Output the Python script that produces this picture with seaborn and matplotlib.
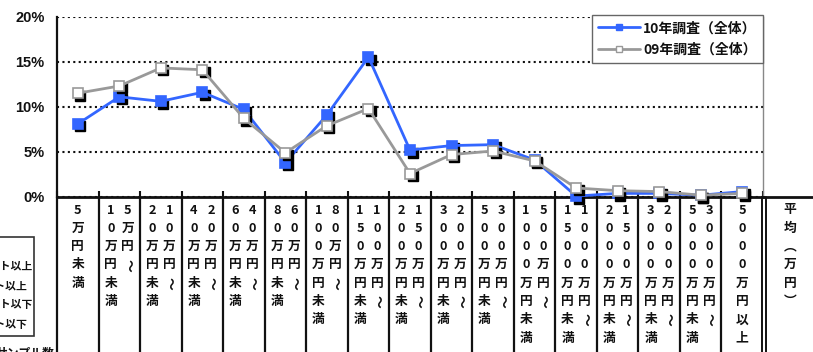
import numpy as np
import pandas as pd
import matplotlib
matplotlib.use("Agg")
import matplotlib.pyplot as plt
import matplotlib.transforms as mtransforms
from matplotlib.lines import Line2D
from matplotlib.patches import Rectangle
import seaborn as sns

# Annual income brackets (万円) and share of respondents (%)
categories = [
    "5万円未満", "5万円〜10万円未満", "10万円〜20万円未満", "20万円〜40万円未満",
    "40万円〜60万円未満", "60万円〜80万円未満", "80万円〜100万円未満",
    "100万円〜150万円未満", "150万円〜200万円未満", "200万円〜300万円未満",
    "300万円〜500万円未満", "500万円〜1000万円未満", "1000万円〜1500万円未満",
    "1500万円〜2000万円未満", "2000万円〜3000万円未満", "3000万円〜5000万円未満",
    "5000万円以上",
]
survey_2010 = [8.1, 11.1, 10.6, 11.6, 9.7, 3.8, 9.1, 15.5, 5.2, 5.7, 5.8, 4.1,
               0.1, 0.4, 0.4, 0.2, 0.6]
survey_2009 = [11.5, 12.3, 14.3, 14.1, 8.7, 4.9, 7.9, 9.8, 2.6, 4.7, 5.1, 4.0,
               1.0, 0.7, 0.6, 0.2, 0.4]
series_names = ["10年調査（全体）", "09年調査（全体）"]
y_ticks = [0, 5, 10, 15, 20]
y_tick_labels = ["0%", "5%", "10%", "15%", "20%"]
average_header = "平均︵万円︶"
diff_legend = ["+10ポイント以上", "+5ポイント以上", "−10ポイント以下", "−5ポイント以下"]
sample_label = "サンプル数"

sns.set_theme(style="white")
plt.rcParams["font.family"] = ["Noto Sans CJK JP", "DejaVu Sans"]

BLUE = "#3366FF"
GRAY = "#999999"
INK = "#111111"

W, H = 813, 352
fig = plt.figure(figsize=(W / 100, H / 100), dpi=100)
fig.patch.set_facecolor("white")


def fx(px):
    return px / W


def fy(py):
    return 1 - py / H


ax = fig.add_axes([fx(57), fy(197), (763 - 57) / W, (197 - 16.5) / H])
ax.set_facecolor("white")

pos = np.arange(len(categories))
df = pd.DataFrame({
    "pos": np.concatenate([pos, pos]),
    "share": survey_2010 + survey_2009,
    "survey": [series_names[0]] * len(pos) + [series_names[1]] * len(pos),
})

shadow_tr = mtransforms.offset_copy(ax.transData, fig=fig, x=2.5, y=-2.5, units="dots")
styles = {
    series_names[0]: dict(color=BLUE, mfc=BLUE, mec=BLUE, z=3),
    series_names[1]: dict(color=GRAY, mfc="white", mec=GRAY, z=6),
}
for name in series_names:
    st = styles[name]
    sub = df[df["survey"] == name]
    ax.plot(sub["pos"], sub["share"], ls="none", marker="s", ms=7.5,
            color="black", transform=shadow_tr, clip_on=False, zorder=st["z"])
    sns.lineplot(data=sub, x="pos", y="share", ax=ax, color=st["color"], lw=2,
                 marker="s", ms=7.5, markerfacecolor=st["mfc"],
                 markeredgecolor=st["mec"], markeredgewidth=1.2,
                 clip_on=False, zorder=st["z"] + 1, legend=False)

ax.set_xlim(-0.5, len(categories) - 0.5)
ax.set_ylim(0, 20)
ax.set_xlabel("")
ax.set_ylabel("")
ax.set_yticks(y_ticks)
ax.set_yticklabels(y_tick_labels, fontsize=10.5, fontweight="bold",
                   family=["Liberation Sans", "DejaVu Sans"], color=INK)
ax.tick_params(axis="y", length=0, pad=9)
ax.set_xticks([])
ax.set_xticks(np.arange(-0.5, len(categories) - 0.4, 1.0), minor=True)
ax.tick_params(axis="x", which="minor", direction="in", length=4, width=1.5,
               color=INK, bottom=True)
ax.yaxis.grid(True, color=INK, lw=1.5, ls=(0, (1, 1.6)))
ax.set_axisbelow(True)
ax.spines["top"].set_visible(False)
ax.spines["left"].set_color(INK)
ax.spines["left"].set_linewidth(1.6)
ax.spines["bottom"].set_color(INK)
ax.spines["bottom"].set_linewidth(2)
ax.spines["right"].set_color("#888888")
ax.spines["right"].set_linewidth(1)

# Legend
handles = [
    Line2D([], [], color=BLUE, lw=2, marker="s", ms=5, mfc=BLUE, mec=BLUE),
    Line2D([], [], color=GRAY, lw=2, marker="s", ms=5, mfc="white", mec=GRAY),
]
leg = ax.legend(handles, series_names, loc="upper right",
                bbox_to_anchor=(1.0, (197 - 15) / 180.5), borderaxespad=0,
                frameon=True, fancybox=False, edgecolor="#666666", framealpha=1,
                prop=dict(family=["Noto Sans CJK JP"], weight="bold", size=10),
                handlelength=3.0, handletextpad=0.25, labelspacing=0.55,
                borderpad=0.45)
leg.get_frame().set_linewidth(1)
for t in leg.get_texts():
    t.set_color(INK)

# Category table below the axis: vertical text in columns
lab_tr = mtransforms.blended_transform_factory(ax.transData, fig.transFigure)
ROW0, STEP = 210, 18.3
SUB = 0.205


def draw_column(xc, text, transform):
    for i, ch in enumerate(text):
        rot = -90 if ch == "〜" else 0
        fig.text(xc, fy(ROW0 + i * STEP), ch, transform=transform,
                 ha="center", va="center", rotation=rot, fontsize=9.2,
                 fontweight="bold", color=INK)


for i, cat in enumerate(categories):
    if "〜" in cat:
        k = cat.index("〜") + 1
        draw_column(i + SUB, cat[:k], lab_tr)
        draw_column(i - SUB, cat[k:], lab_tr)
    else:
        draw_column(i, cat, lab_tr)

draw_column(fx(790), average_header, fig.transFigure)

for b in np.arange(-0.5, len(categories) - 1, 1.0):
    fig.add_artist(Line2D([b, b], [fy(197), fy(352)], transform=lab_tr,
                          color=INK, lw=1.6))
for xp in (761.5, 765.5):
    fig.add_artist(Line2D([fx(xp), fx(xp)], [fy(197), fy(352)], color=INK, lw=1.4))
fig.add_artist(Line2D([fx(763), 1], [fy(197), fy(197)], color=INK, lw=2))

# Difference key at the left margin (its left part lies beyond the figure edge)
fig.add_artist(Rectangle((fx(-10), fy(336)), fx(44), (336 - 237) / H,
                         transform=fig.transFigure, fill=False, ec="#333333",
                         lw=1.2))
for txt, xr, yp in zip(diff_legend, [33, 27.5, 33, 27.5], [266, 286, 305, 325]):
    fig.text(fx(xr), fy(yp), txt, ha="right", va="center", fontsize=7.8,
             fontweight="bold", color=INK)
fig.text(fx(54), fy(346), sample_label, ha="right", va="top", fontsize=8.5,
         fontweight="bold", color=INK)

fig.savefig("out.png", dpi=100, facecolor="white")
